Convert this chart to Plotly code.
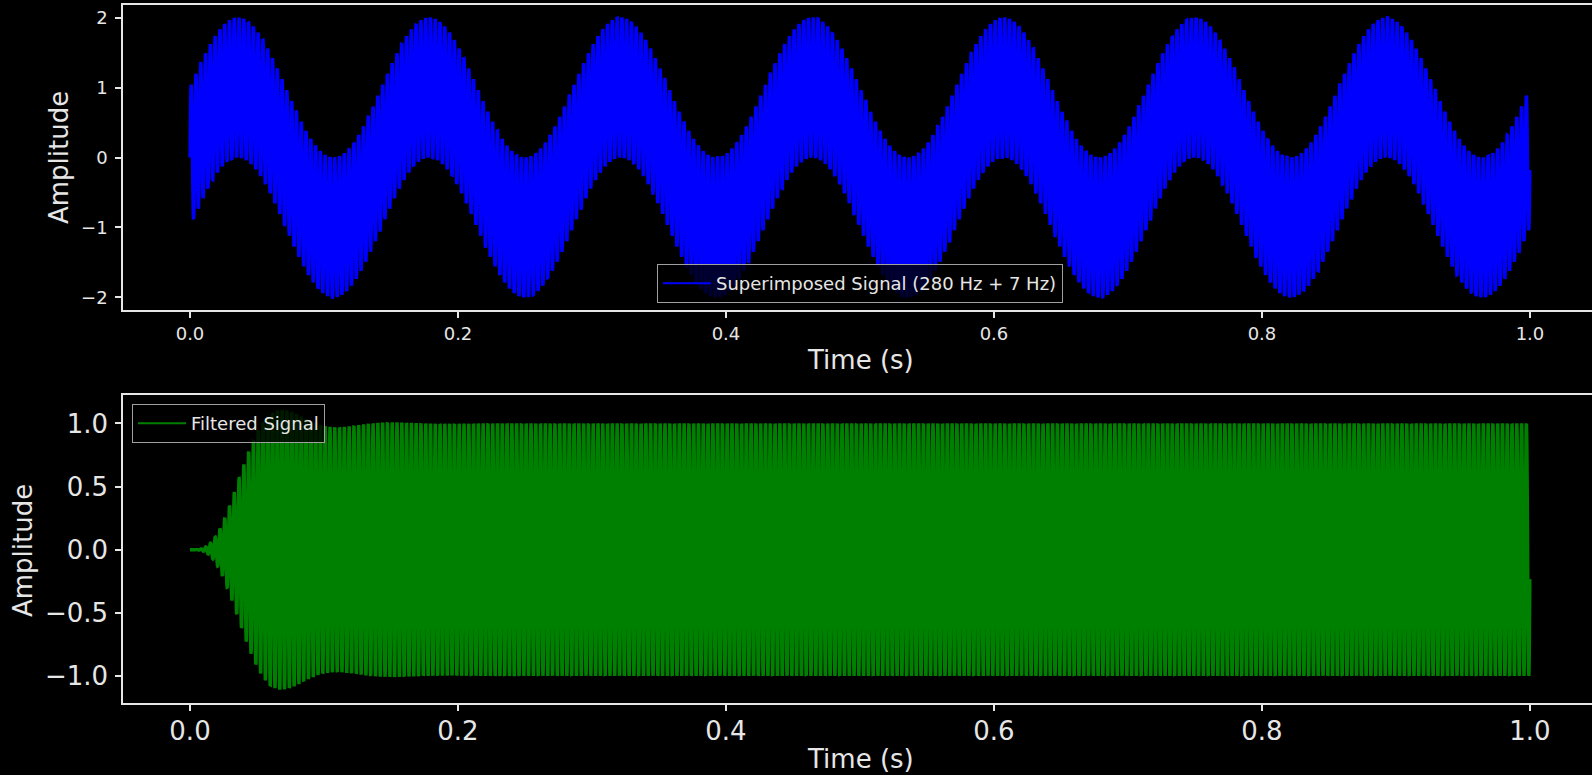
import numpy as np
import plotly.graph_objects as go

# ---- signal definition -------------------------------------------------
sample_rate_hz = 10000
duration_s = 1.0
carrier_hz = 280
tone_hz = 7
carrier_amp = 1.0
tone_amp = 1.0

# band-pass filter centred on the carrier
filter_order = 4
band_low_hz = 267
band_high_hz = 293

# ---- axis ticks --------------------------------------------------------
time_ticks = [0.0, 0.2, 0.4, 0.6, 0.8, 1.0]
time_tick_text = ["0.0", "0.2", "0.4", "0.6", "0.8", "1.0"]
raw_ticks = [-2, -1, 0, 1, 2]
raw_tick_text = ["\u22122", "\u22121", "0", "1", "2"]
filt_ticks = [-1.0, -0.5, 0.0, 0.5, 1.0]
filt_tick_text = ["\u22121.0", "\u22120.5", "0.0", "0.5", "1.0"]


def butter_bandpass_sos(order, lo, hi, fs):
    """Butterworth band-pass as second-order sections (bilinear transform)."""
    wl = 2 * fs * np.tan(np.pi * lo / fs)
    wh = 2 * fs * np.tan(np.pi * hi / fs)
    bw = wh - wl
    w0 = np.sqrt(wl * wh)
    k = np.arange(1, order + 1)
    p_lp = np.exp(1j * np.pi * (2 * k + order - 1) / (2 * order))
    poles = []
    for p in p_lp:
        a = p * bw / 2
        d = np.sqrt(a * a - w0 ** 2 + 0j)
        poles += [a + d, a - d]
    poles = np.array(poles)
    zp = (2 * fs + poles) / (2 * fs - poles)
    upper = zp[zp.imag > 0]
    sos = []
    for z in upper:
        b = np.array([1.0, 0.0, -1.0])
        a = np.array([1.0, -2 * z.real, abs(z) ** 2])
        sos.append([b, a])
    # unity gain at the band centre
    wc = 2 * np.arctan(w0 / (2 * fs))
    ze = np.exp(1j * wc)
    h = 1.0 + 0j
    for b, a in sos:
        h *= np.polyval(b[::-1], 1 / ze) / np.polyval(a[::-1], 1 / ze)
    sos[0][0] = sos[0][0] / abs(h)
    return sos


def sos_filter(sos, x):
    y = np.asarray(x, dtype=float).copy()
    for b, a in sos:
        out = np.empty_like(y)
        s1 = s2 = 0.0
        b0, b1, b2 = b
        a1, a2 = a[1], a[2]
        for i, xi in enumerate(y):
            yi = b0 * xi + s1
            s1 = b1 * xi - a1 * yi + s2
            s2 = b2 * xi - a2 * yi
            out[i] = yi
        y = out
    return y


t = np.arange(int(sample_rate_hz * duration_s)) / sample_rate_hz
superimposed = carrier_amp * np.sin(2 * np.pi * carrier_hz * t) + \
    tone_amp * np.sin(2 * np.pi * tone_hz * t)
filtered = sos_filter(
    butter_bandpass_sos(filter_order, band_low_hz, band_high_hz, sample_rate_hz),
    superimposed)

# ---- figure ------------------------------------------------------------
FONT = "DejaVu Sans"
FG = "#e6e6e6"
W, H = 1592, 775
ML, MR, MT, MB = 123, 0, 5, 72
plot_h = H - MT - MB
plot_w = W - ML - MR


def py(px):
    return (H - MB - px) / plot_h


def pxx(px):
    return (px - ML) / plot_w


raw_name = f"Superimposed Signal ({carrier_hz} Hz + {tone_hz} Hz)"
filt_name = "Filtered Signal"

fig = go.Figure()
fig.add_trace(go.Scatter(
    x=t, y=superimposed, mode="lines",
    line=dict(color="#0000ff", width=3.4, simplify=False),
    name=raw_name, showlegend=False, xaxis="x", yaxis="y"))
fig.add_trace(go.Scatter(
    x=t, y=filtered, mode="lines",
    line=dict(color="#008000", width=3.4, simplify=False),
    name=filt_name, showlegend=False, xaxis="x2", yaxis="y2"))
# legend entries drawn with a thinner key line
fig.add_trace(go.Scatter(
    x=[None], y=[None], mode="lines", line=dict(color="#0000ff", width=2),
    name=raw_name, showlegend=True, xaxis="x", yaxis="y", legend="legend"))
fig.add_trace(go.Scatter(
    x=[None], y=[None], mode="lines", line=dict(color="#008000", width=2),
    name=filt_name, showlegend=True, xaxis="x2", yaxis="y2", legend="legend2"))

axis_common = dict(
    showgrid=False, zeroline=False, showline=True, linecolor=FG, linewidth=1.5,
    ticks="outside", ticklen=6, tickwidth=1.5, tickcolor=FG,
)
x_range = [-0.05, 1.0463]

legend_common = dict(
    bgcolor="rgba(0,0,0,0.8)", bordercolor="#a0a0a0", borderwidth=1,
    itemwidth=48, font=dict(size=18, color=FG, family=FONT),
)

fig.update_layout(
    width=W, height=H, showlegend=True,
    paper_bgcolor="black", plot_bgcolor="black",
    margin=dict(l=ML, r=MR, t=MT, b=MB),
    font=dict(family=FONT, color=FG),
    xaxis=dict(**axis_common, domain=[0, 1], anchor="y", mirror=True,
               range=x_range, tickvals=time_ticks, ticktext=time_tick_text,
               tickfont=dict(size=18, color=FG), ticklabelstandoff=1),
    yaxis=dict(**axis_common, domain=[py(310), py(5)], anchor="x",
               range=[-2.18, 2.18], tickvals=raw_ticks, ticktext=raw_tick_text,
               tickfont=dict(size=18, color=FG), ticklabelstandoff=4),
    xaxis2=dict(**axis_common, domain=[0, 1], anchor="y2", mirror=True,
                range=x_range, tickvals=time_ticks, ticktext=time_tick_text,
                tickfont=dict(size=26, color=FG), ticklabelstandoff=-2),
    yaxis2=dict(**axis_common, domain=[0, py(395)], anchor="x2",
                range=[-1.214, 1.225], tickvals=filt_ticks, ticktext=filt_tick_text,
                tickfont=dict(size=26, color=FG), ticklabelstandoff=2),
    legend=dict(**legend_common, x=pxx(860), y=py(303),
                xanchor="center", yanchor="bottom"),
    legend2=dict(**legend_common, x=pxx(132), y=py(404),
                 xanchor="left", yanchor="top"),
    annotations=[
        dict(text="Time (s)", xref="paper", yref="paper", x=pxx(860), y=py(360),
             xanchor="center", yanchor="middle", showarrow=False,
             font=dict(size=26, color=FG, family=FONT)),
        dict(text="Time (s)", xref="paper", yref="paper", x=pxx(860), y=py(759),
             xanchor="center", yanchor="middle", showarrow=False,
             font=dict(size=26, color=FG, family=FONT)),
        dict(text="Amplitude", xref="paper", yref="paper", x=pxx(59), y=py(158),
             xanchor="center", yanchor="middle", showarrow=False, textangle=-90,
             font=dict(size=26, color=FG, family=FONT)),
        dict(text="Amplitude", xref="paper", yref="paper", x=pxx(23), y=py(551),
             xanchor="center", yanchor="middle", showarrow=False, textangle=-90,
             font=dict(size=26, color=FG, family=FONT)),
    ],
)

fig.write_html("out.html")
